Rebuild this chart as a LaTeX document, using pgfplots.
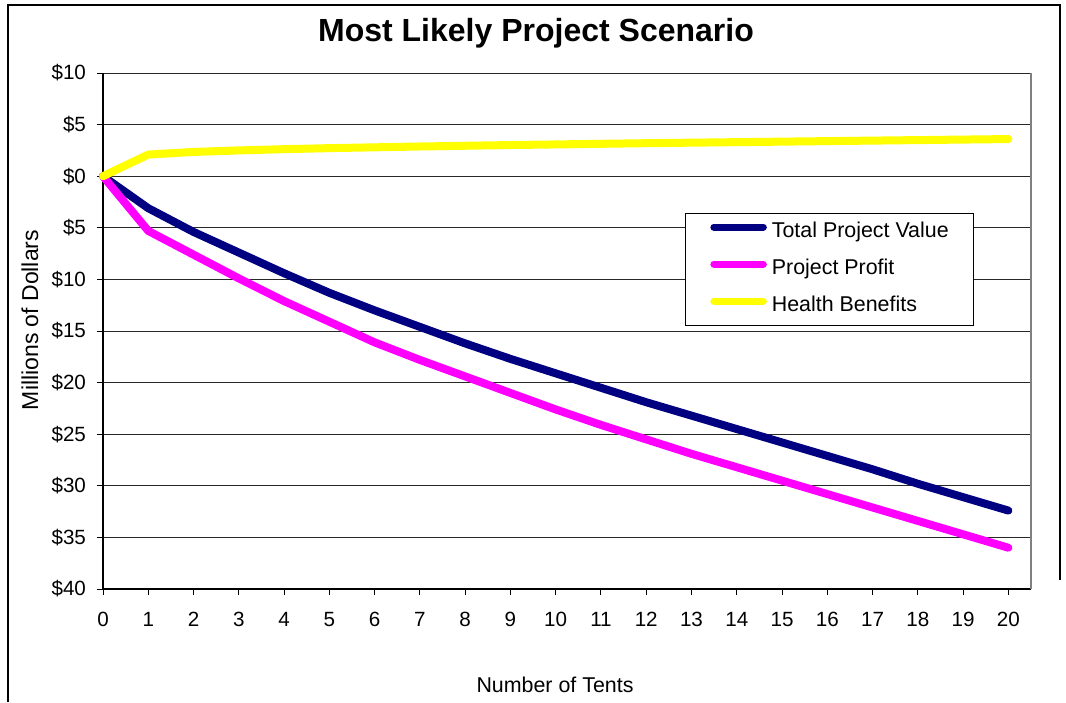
\documentclass[border=0pt]{standalone}
\usepackage{pgfplots}
\pgfplotsset{compat=1.18}
\usepackage{fontspec}
\setmainfont{Liberation Sans}

\definecolor{tpv}{RGB}{0,0,128}
\definecolor{pp}{RGB}{255,0,255}
\definecolor{hb}{RGB}{255,255,0}
\definecolor{gridc}{RGB}{40,40,40}

\begin{document}
\begin{tikzpicture}
% page size and outer frame (1px = 0.5pt)
\path (0pt,0pt) rectangle (533pt,-351pt);
\draw[black, line width=0.6pt] (4pt,-351pt) -- (4pt,-2.5pt) -- (530pt,-2.5pt) -- (530pt,-290pt);

\begin{axis}[
  at={(51.5pt,-294.5pt)}, anchor=south west,
  scale only axis, width=464pt, height=258pt,
  xmin=0, xmax=20.5, ymin=-40, ymax=10,
  xtick={0,1,...,20},
  ytick={-40,-35,...,10},
  yticklabels={\$40,\$35,\$30,\$25,\$20,\$15,\$10,\$5,\$0,\$5,\$10},
  axis x line*=bottom, axis y line*=left,
  axis line style={black, line width=0.7pt, -},
  tick align=outside, major tick length=3pt,
  tick style={black, line width=0.5pt},
  ymajorgrids, grid style={gridc, line width=0.5pt},
  font=\fontsize{10.3}{12}\selectfont,
  /pgf/number format/assume math mode=true,
  xticklabel style={yshift=-5pt},
  yticklabel style={xshift=-2pt},
  clip=false,
  legend style={at={(0.627,0.729)}, anchor=north west, draw=black,
    line width=0.5pt, font=\fontsize{10.7}{12}\selectfont,
    inner xsep=12.5pt, inner ysep=4.25pt, row sep=8pt,
    /tikz/every odd column/.append style={column sep=2.5pt},
    nodes={inner sep=0pt, anchor=west, text height=7.8pt, text depth=2.7pt}},
  legend cell align=left,
  legend image code/.code={\draw[#1, line width=3.5pt, line cap=round] (1.75pt,2.6pt) -- (26.5pt,2.6pt);},
  every axis plot/.append style={line width=4pt, line join=round, line cap=round},
]
% plot area right border
\draw[gray, line width=1pt] (rel axis cs:1,0) -- (rel axis cs:1,1);

\addplot[tpv] coordinates {
(0,0) (1,-3.1) (2,-5.4) (3,-7.4) (4,-9.4) (5,-11.3) (6,-13.0) (7,-14.6)
(8,-16.2) (9,-17.7) (10,-19.1) (11,-20.5) (12,-21.9) (13,-23.2) (14,-24.5)
(15,-25.8) (16,-27.1) (17,-28.4) (18,-29.8) (19,-31.1) (20,-32.4)};
\addplot[pp] coordinates {
(0,0) (1,-5.3) (2,-7.6) (3,-9.9) (4,-12.1) (5,-14.1) (6,-16.1) (7,-17.8)
(8,-19.4) (9,-21.0) (10,-22.6) (11,-24.1) (12,-25.5) (13,-26.9) (14,-28.2)
(15,-29.5) (16,-30.8) (17,-32.1) (18,-33.4) (19,-34.7) (20,-36.0)};
\addplot[hb] coordinates {
(0,0) (1,2.1) (2,2.35) (3,2.5) (4,2.62) (5,2.72) (6,2.8) (7,2.88)
(8,2.95) (9,3.02) (10,3.08) (11,3.14) (12,3.2) (13,3.25) (14,3.3)
(15,3.35) (16,3.4) (17,3.45) (18,3.5) (19,3.55) (20,3.6)};
\legend{Total Project Value, Project Profit, Health Benefits}
\end{axis}

\node[font=\fontsize{16}{19}\selectfont\bfseries] at (268pt,-16.5pt) {Most Likely Project Scenario};
\node[rotate=90, font=\fontsize{11.5}{13}\selectfont] at (15pt,-160pt) {Millions of Dollars};
\node[font=\fontsize{10.7}{12}\selectfont] at (277.5pt,-342.5pt) {Number of Tents};
\end{tikzpicture}
\end{document}
